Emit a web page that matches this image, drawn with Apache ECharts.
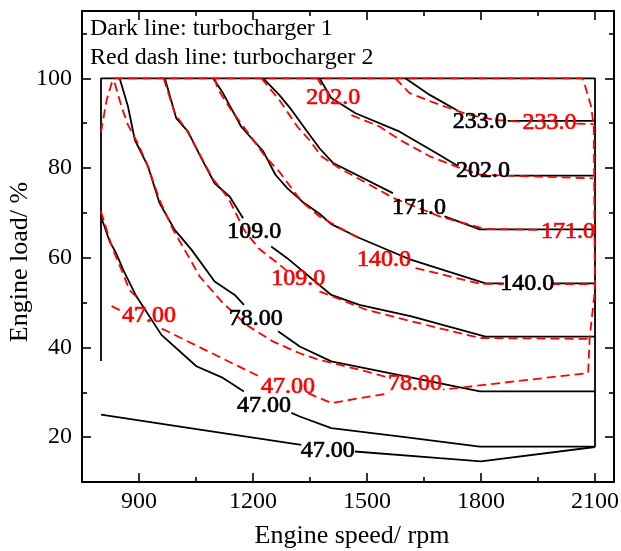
<!DOCTYPE html>
<html>
<head>
<meta charset="utf-8">
<script src="https://cdn.jsdelivr.net/npm/echarts@6/dist/echarts.min.js"></script>
<style>
  html, body { margin: 0; padding: 0; background: #fff; }
  #chart { width: 621px; height: 551px; }
</style>
</head>
<body>
<div id="chart"></div>
<script>
// Axis ticks (engine speed in rpm, engine load in %)
const speedTicks = [900, 1200, 1500, 1800, 2100];
const speedMinorTicks = [1050, 1350, 1650, 1950];
const loadTicks = [20, 40, 60, 80, 100];
const loadMinorTicks = [30, 50, 70, 90, 110];

// Turbocharger 1 contours: [rpm, load] points, split where a label sits on the line
const tc1Edge = [[[800, 37], [800, 100], [2100, 100], [2100, 17.8]]];
const tc1Line47Low = [
  [[800, 25], [1060, 21.7], [1327, 18.3]],
  [[1468, 16.8], [1691, 15.3], [1800, 14.6], [2100, 17.8]]
];
const tc1Line47 = [
  [[800, 69.2], [823, 63.6], [840, 61], [860, 57], [893, 51.4], [959, 42.8], [1051, 35.8], [1121, 33.2], [1176, 30.2]],
  [[1301, 25.4], [1323, 24.6], [1406, 22], [1600, 20], [1797, 17.9], [2100, 17.9]]
];
const tc1Line78 = [
  [[849, 100], [871, 93.7], [889, 86.3], [924, 80.3], [954, 72.2], [994, 66.2], [1038, 61.8], [1099, 54.7], [1152, 51.7], [1176, 49.5]],
  [[1266, 43.6], [1323, 40.2], [1406, 36.9], [1797, 30.2], [2100, 30.2]]
];
const tc1Line109 = [
  [[968, 100], [998, 91.1], [1029, 88.1], [1064, 82.2], [1099, 76.6], [1139, 73.6], [1174, 68.8]],
  [[1248, 62.5], [1290, 59.9], [1406, 51.7], [1480, 49.5], [1617, 46.9], [1812, 42.4], [2100, 42.4]]
];
const tc1Line140 = [
  [[1095, 100], [1121, 96.7], [1169, 89.2], [1227, 83.7], [1259, 78.5], [1290, 75.5], [1330, 72.5], [1375, 69.8], [1406, 67.5], [1480, 64.4], [1617, 59.5], [1812, 54.3], [1860, 54.3]],
  [[1985, 54.3], [2100, 54.3]]
];
const tc1Line171 = [
  [[1227, 100], [1269, 96.3], [1301, 93], [1343, 88.1], [1375, 84.4], [1411, 81.1], [1568, 74.4]],
  [[1704, 69.2], [1797, 66.3], [2100, 66.3]]
];
const tc1Line202 = [
  [[1375, 100], [1406, 95.6], [1470, 92.2], [1586, 88.1], [1691, 82.9], [1738, 80.5]],
  [[1870, 78.3], [2100, 78.3]]
];
const tc1Line233 = [
  [[1601, 100], [1665, 96.3], [1738, 92.8]],
  [[1870, 90.5], [2100, 90.5]]
];
const tc1Labels = [
  [1397, 17.0, '47.00'], [1229, 27.0, '47.00'], [1207, 46.4, '78.00'], [1203, 65.7, '109.0'],
  [1922, 54.2, '140.0'], [1637, 71.2, '171.0'], [1805, 79.5, '202.0'], [1797, 90.4, '233.0']
];

// Turbocharger 2 contours (dashed)
const tc2Edge = [
  [[800, 88], [815, 95.2], [832, 100], [2068, 100], [2090, 93.7], [2097, 89], [2099, 61], [2100, 54.3], [2098, 51.4], [2086, 42.1], [2082, 34.3], [1700, 30.6]]
];
const tc2Line47 = [
  [[800, 70.3], [823, 64], [832, 61.7], [854, 57.3], [875, 52.8], [902, 50.6]],
  [[828, 49.2], [850, 48.3]],
  [[960, 44.2], [1217, 33.5]],
  [[1345, 29.8], [1364, 29.1], [1406, 27.6], [1559, 29.8]]
];
const tc2Line78 = [
  [[836, 99], [854, 93.7], [871, 89.6], [897, 85.5], [924, 80.3], [954, 72.9], [990, 66.2], [1020, 61.8], [1060, 55.8], [1121, 49.9], [1183, 45], [1253, 41.3], [1323, 38.7], [1375, 37.2], [1410, 36.5], [1500, 34.6], [1555, 33.3]]
];
const tc2Line109 = [
  [[965, 100], [995, 92], [1025, 88.5], [1060, 83], [1095, 77.5], [1135, 73.3], [1178, 66], [1216, 62], [1269, 58.5], [1290, 57]],
  [[1375, 52.5], [1498, 48.4], [1656, 45], [1797, 42.1], [2086, 41.9]]
];
const tc2Line140 = [
  [[1100, 100], [1106, 97.8], [1142, 93], [1185, 88.1], [1232, 82.6], [1269, 79.2], [1311, 74.4], [1332, 72.2], [1375, 69.2], [1438, 66.2], [1475, 64.5]],
  [[1628, 57.7], [1797, 54.2], [1860, 54.1]],
  [[1985, 54.1], [2100, 54.1]]
];
const tc2Line171 = [
  [[1222, 100], [1269, 95.2], [1317, 89.2], [1348, 86.3], [1380, 82.6], [1427, 80], [1570, 73.3], [1691, 69.2], [1812, 66.4], [1960, 66.2]]
];
const tc2Line202 = [
  [[1369, 100], [1380, 98.5]],
  [[1459, 91.8], [1534, 89.2], [1586, 86.3], [1665, 82.6], [1735, 80.3], [1797, 78.5], [1870, 78.3], [2095, 77.7]]
];
const tc2Line233 = [
  [[1575, 100], [1612, 96.7], [1678, 94.5], [1770, 91.8], [1839, 90.7], [1910, 90.3]],
  [[2051, 89.9], [2097, 89.8]]
];
const tc2Labels = [
  [926, 47.0, '47.00'], [1292, 31.3, '47.00'], [1626, 31.9, '78.00'], [1319, 55.3, '109.0'],
  [1545, 59.6, '140.0'], [2029, 65.7, '171.0'], [1411, 95.6, '202.0'], [1980, 90.0, '233.0']
];

const FONT = '"Liberation Serif", "Times New Roman", serif';
const BLACK = '#000000';
const RED = '#ff0000';

function contourSeries(groups, color, dashed) {
  const out = [];
  groups.forEach(function (segments) {
    segments.forEach(function (seg) {
      out.push({
        type: 'line',
        data: seg,
        symbol: 'none',
        silent: true,
        animation: false,
        z: dashed ? 3 : 2,
        lineStyle: { color: color, width: 1.8, type: dashed ? [9, 5] : 'solid', cap: 'butt', opacity: 1 }
      });
    });
  });
  return out;
}

function labelSeries(labels, color) {
  return {
    type: 'scatter',
    data: labels,
    symbolSize: 0,
    silent: true,
    animation: false,
    z: 5,
    itemStyle: { opacity: 1, color: color },
    label: {
      show: true,
      position: 'inside',
      formatter: function (p) { return p.data[2]; },
      color: color,
      opacity: 1,
      fontFamily: FONT,
      fontSize: 24,
      textBorderColor: color,
      textBorderWidth: 0.7
    }
  };
}

function valueAxis(dim, opts) {
  const isX = dim === 'x';
  return Object.assign({
    type: 'value',
    min: isX ? 750 : 10,
    max: isX ? 2150 : 115,
    splitLine: { show: false },
    axisLine: { show: false, onZero: false, lineStyle: { color: BLACK, width: 2 } },
    axisTick: { show: true, inside: true, length: 9, lineStyle: { color: BLACK, width: 1.6 } },
    axisLabel: { show: false }
  }, opts);
}

const tickLabelStyle = {
  show: true, color: BLACK, fontFamily: FONT, fontSize: 24,
  formatter: function (v) { return String(v); }
};

const series = []
  .concat(contourSeries([tc1Edge, tc1Line47Low, tc1Line47, tc1Line78, tc1Line109, tc1Line140, tc1Line171, tc1Line202, tc1Line233], BLACK, false))
  .concat(contourSeries([tc2Edge, tc2Line47, tc2Line78, tc2Line109, tc2Line140, tc2Line171, tc2Line202, tc2Line233], RED, true))
  .concat([labelSeries(tc1Labels, BLACK), labelSeries(tc2Labels, RED)]);

const chart = echarts.init(document.getElementById('chart'), null, { renderer: 'canvas' });
chart.setOption({
  backgroundColor: '#ffffff',
  animation: false,
  grid: { left: 82, right: 7, top: 11, bottom: 69, containLabel: false, outerBoundsMode: 'none' },
  xAxis: [
    valueAxis('x', {
      position: 'bottom',
      axisLine: { show: true, onZero: false, lineStyle: { color: BLACK, width: 2 } },
      axisTick: { show: true, inside: true, length: 9, customValues: speedTicks, lineStyle: { color: BLACK, width: 1.6 } },
      axisLabel: Object.assign({ customValues: speedTicks, margin: 8 }, tickLabelStyle)
    }),
    valueAxis('x', {
      position: 'bottom',
      axisTick: { show: true, inside: true, length: 5, customValues: speedMinorTicks, lineStyle: { color: BLACK, width: 1.6 } }
    }),
    valueAxis('x', {
      position: 'top',
      axisLine: { show: true, onZero: false, lineStyle: { color: BLACK, width: 2 } },
      axisTick: { show: true, inside: true, length: 9, customValues: speedTicks, lineStyle: { color: BLACK, width: 1.6 } }
    }),
    valueAxis('x', {
      position: 'top',
      axisTick: { show: true, inside: true, length: 5, customValues: speedMinorTicks, lineStyle: { color: BLACK, width: 1.6 } }
    })
  ],
  yAxis: [
    valueAxis('y', {
      position: 'left',
      axisLine: { show: true, onZero: false, lineStyle: { color: BLACK, width: 2 } },
      axisTick: { show: true, inside: true, length: 9, customValues: loadTicks, lineStyle: { color: BLACK, width: 1.6 } },
      axisLabel: Object.assign({ customValues: loadTicks, margin: 10 }, tickLabelStyle)
    }),
    valueAxis('y', {
      position: 'left',
      axisTick: { show: true, inside: true, length: 5, customValues: loadMinorTicks, lineStyle: { color: BLACK, width: 1.6 } }
    }),
    valueAxis('y', {
      position: 'right',
      axisLine: { show: true, onZero: false, lineStyle: { color: BLACK, width: 2 } },
      axisTick: { show: true, inside: true, length: 9, customValues: loadTicks, lineStyle: { color: BLACK, width: 1.6 } }
    }),
    valueAxis('y', {
      position: 'right',
      axisTick: { show: true, inside: true, length: 5, customValues: loadMinorTicks, lineStyle: { color: BLACK, width: 1.6 } }
    })
  ],
  graphic: [
    { type: 'text', left: 90, top: 17, silent: true,
      style: { text: 'Dark line: turbocharger 1', fill: BLACK, font: '24px ' + FONT } },
    { type: 'text', left: 90, top: 46, silent: true,
      style: { text: 'Red dash line: turbocharger 2', fill: BLACK, font: '24px ' + FONT } },
    { type: 'text', x: 352, y: 536, silent: true,
      style: { text: 'Engine speed/ rpm', fill: BLACK, font: '26px ' + FONT, align: 'center', verticalAlign: 'middle' } },
    { type: 'text', x: 20, y: 262, rotation: Math.PI / 2, silent: true,
      style: { text: 'Engine load/ %', fill: BLACK, font: '26px ' + FONT, align: 'center', verticalAlign: 'middle' } }
  ],
  series: series
});
</script>
</body>
</html>
